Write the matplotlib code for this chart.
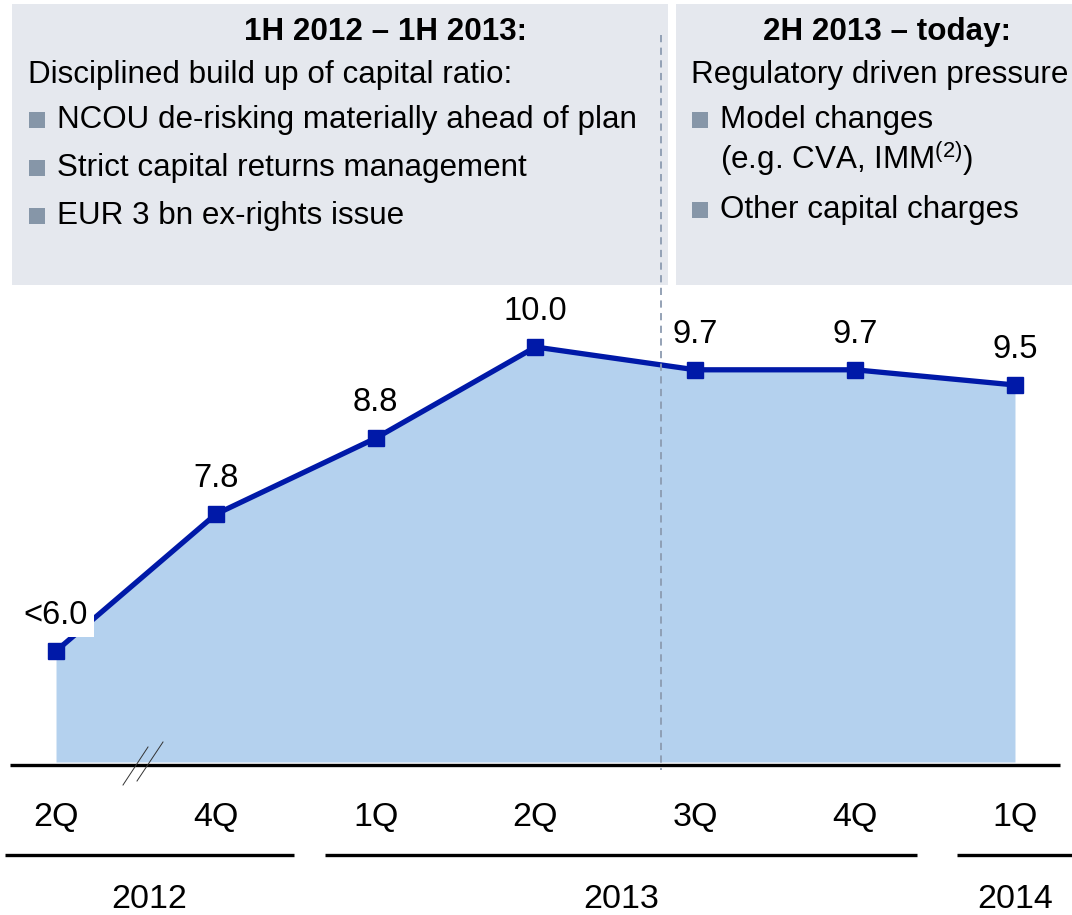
import numpy as np
import matplotlib.pyplot as plt
from matplotlib.patches import Rectangle
from matplotlib.lines import Line2D

plt.rcParams['font.family'] = ['Liberation Sans', 'DejaVu Sans']
plt.rcParams['mathtext.fontset'] = 'custom'
plt.rcParams['mathtext.rm'] = 'Liberation Sans'

# data
quarters = ['2Q', '4Q', '1Q', '2Q', '3Q', '4Q', '1Q']
ratio = [6.0, 7.8, 8.8, 10.0, 9.7, 9.7, 9.5]
value_labels = ['<6.0', '7.8', '8.8', '10.0', '9.7', '9.7', '9.5']
years = ['2012', '2013', '2014']
year_lo = [-0.32, 1.68, 5.64]
year_hi = [1.49, 5.39, 6.6]

left_title = '1H 2012 – 1H 2013:'
left_sub = 'Disciplined build up of capital ratio:'
left_bullets = ['NCOU de-risking materially ahead of plan',
                'Strict capital returns management',
                'EUR 3 bn ex-rights issue']
right_title = '2H 2013 – today:'
right_sub = 'Regulatory driven pressure'
right_bullets = [['Model changes', '(e.g. CVA, IMM$^{\\mathrm{(2)}}$)'],
                 ['Other capital charges']]

W, H = 1072, 915
LINE = '#0019a8'
FILL = '#b4d1ee'
BOX = '#e5e8ee'
BUL = '#8696a8'
FS = 22.6        # box text
FS_VAL = 23.5    # value labels
FS_AX = 24.5     # quarter / year labels


def fx(p):
    return p / W


def fy(p):
    return 1 - p / H


fig = plt.figure(figsize=(W / 100, H / 100), dpi=100)
ax = fig.add_axes([0, 0, 1, 1])
x = np.arange(len(ratio))
# 160 px per quarter, 76 px per percentage point
ax.set_xlim(-56 / 159.8, 6 + 57 / 159.8)
ax.set_ylim(10 - (H - 347) / 76, 10 + 347 / 76)
ax.axis('off')


def py(p):
    return 10 - (p - 347) / 76


base = py(762)
ax.fill_between(x, ratio, base, color=FILL, lw=0, zorder=1)
ax.plot(x, ratio, color=LINE, lw=3.8, marker='s', ms=11, zorder=3)

for i, (v, lab) in enumerate(zip(ratio, value_labels)):
    bb = dict(fc='white', ec='none', pad=4) if i == 0 else None
    ax.annotate(lab, (i, v), xytext=(0, 25.5), textcoords='offset points',
                ha='center', va='center', fontsize=FS_VAL, zorder=4, bbox=bb)

# axis line and break mark
ax.plot([-0.29, 6.28], [py(765), py(765)], color='black', lw=2.4, zorder=2,
        solid_capstyle='butt')
for q, lab in zip(x, quarters):
    ax.text(q, py(818), lab, ha='center', va='center', fontsize=FS_AX)

for lo, hi, yr in zip(year_lo, year_hi, years):
    ax.plot([lo, hi], [py(855), py(855)], color='black', lw=2.4,
            solid_capstyle='butt')
    mid = (lo + min(hi, ax.get_xlim()[1])) / 2
    ax.text(mid, py(899), yr, ha='center', va='center', fontsize=FS_AX)

fig.add_artist(Line2D([fx(123), fx(148)], [fy(785), fy(747)], color='#333333', lw=0.7))
fig.add_artist(Line2D([fx(137), fx(163)], [fy(781), fy(742)], color='#333333', lw=0.7))

# boxes
fig.add_artist(Rectangle((fx(12), fy(285)), fx(656), 281 / H, transform=fig.transFigure,
                         color=BOX, lw=0, zorder=0))
fig.add_artist(Rectangle((fx(676), fy(285)), fx(400), 281 / H, transform=fig.transFigure,
                         color=BOX, lw=0, zorder=0))

fig.add_artist(Line2D([fx(661), fx(661)], [fy(35), fy(770)], color='#8c9bb0', lw=1.3,
                      linestyle=(0, (4, 3)), zorder=5))

fig.text(fx(386), fy(32), left_title, ha='center', va='center', fontsize=FS,
         fontweight='bold')
fig.text(fx(28), fy(75), left_sub, ha='left', va='center', fontsize=FS)
for k, t in enumerate(left_bullets):
    yy = 120 + 48 * k
    fig.add_artist(Rectangle((fx(29), fy(yy + 8)), fx(16), 16 / H,
                             transform=fig.transFigure, color=BUL, lw=0))
    fig.text(fx(57), fy(yy), t, ha='left', va='center', fontsize=FS)

fig.text(fx(887), fy(32), right_title, ha='center', va='center', fontsize=FS,
         fontweight='bold')
fig.text(fx(691), fy(75), right_sub, ha='left', va='center', fontsize=FS)
for lines, yy in zip(right_bullets, [120, 210]):
    fig.add_artist(Rectangle((fx(692), fy(yy + 8)), fx(16), 16 / H,
                             transform=fig.transFigure, color=BUL, lw=0))
    for j, t in enumerate(lines):
        fig.text(fx(720), fy(yy + 38 * j), t, ha='left', va='center', fontsize=FS)

fig.savefig('out.png', dpi=100)
